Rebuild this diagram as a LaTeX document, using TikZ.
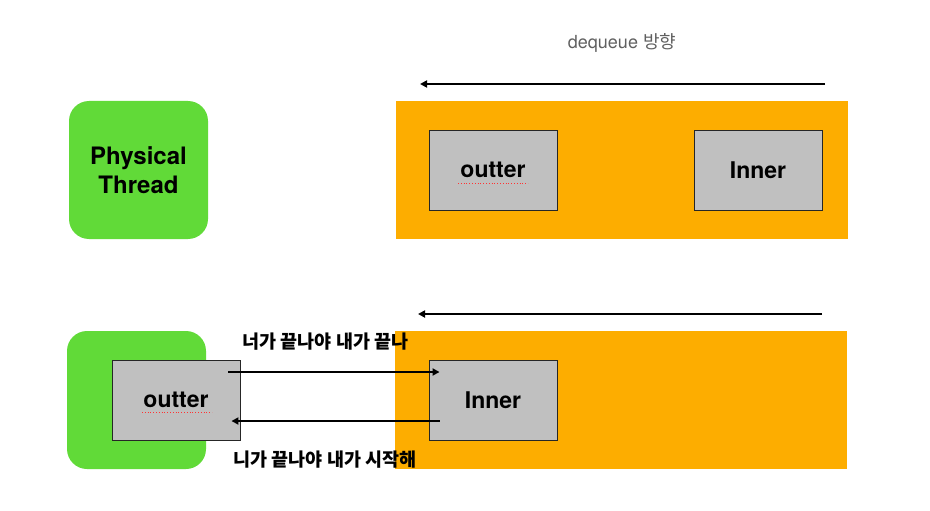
\documentclass[tikz,border=0pt]{standalone}
\usepackage{fontspec}
\setmainfont{TeX Gyre Heros}
\newfontfamily\kr{Noto Sans CJK KR}
\usetikzlibrary{arrows.meta}

\definecolor{queueorange}{HTML}{FDAD00}
\definecolor{threadgreen}{HTML}{61DA38}
\definecolor{taskgray}{HTML}{C0C0C0}
\definecolor{labelgray}{HTML}{606060}

\tikzset{
  queuebox/.style={fill=queueorange, minimum width=452pt, minimum height=138pt, inner sep=0pt},
  threadbox/.style={fill=threadgreen, rounded corners=20pt, minimum width=139pt, minimum height=138pt, inner sep=0pt},
  taskbox/.style={draw=black!85, line width=0.9pt, fill=taskgray, minimum width=128pt, minimum height=80pt, inner sep=0pt, font=\bfseries\fontsize{23}{28}\selectfont},
  dirarrow/.style={line width=2pt, -{Triangle[length=7pt,width=7pt]}},
  spellmark/.style={red!80, line width=0.8pt, dotted},
  talklabel/.style={font=\kr\bfseries\fontsize{18.5}{22}\selectfont}
}

\begin{document}
\begin{tikzpicture}[x=1pt, y=-1pt]
    \useasboundingbox (0,0) rectangle (930,511);

    % top row
    \node[text=labelgray, font=\fontsize{18}{21}\selectfont] (dirlabel) at (622, 43) {dequeue {\kr 방향}};
    \coordinate (topstart) at (825, 84);
    \coordinate (topend) at (420, 84);
    \draw [dirarrow] (topstart) -- (topend);

    \node[queuebox] (queuetop) at (622, 170) {};
    \node[threadbox, align=center, font=\bfseries\fontsize{24}{29}\selectfont] (thread) at (138.5, 170) {Physical\\Thread};
    \node[taskbox] (outtertop) at (493, 170) {\raisebox{-2pt}{outter}};
    \node[taskbox] (innertop) at (758, 170) {\raisebox{-2pt}{Inner}};
    \draw [spellmark] (458, 183) -- (528, 183);

    % bottom row
    \coordinate (botstart) at (822, 314);
    \coordinate (botend) at (418, 314);
    \draw [dirarrow] (botstart) -- (botend);

    \node[queuebox] (queuebot) at (621, 400) {};
    \node[threadbox] (threadbot) at (136.5, 400) {};
    \node[taskbox] (outterbot) at (176, 400) {\raisebox{-2pt}{outter}};
    \node[taskbox] (innerbot) at (493, 400) {\raisebox{-2pt}{Inner}};
    \draw [spellmark] (142, 412) -- (212, 412);

    \coordinate (callstart) at ([xshift=-12pt, yshift=28pt]outterbot.east);
    \coordinate (callend) at ([xshift=11pt, yshift=28pt]innerbot.west);
    \coordinate (retstart) at ([xshift=11pt, yshift=-21pt]innerbot.west);
    \coordinate (retend) at ([xshift=-9pt, yshift=-21pt]outterbot.east);
    \draw [dirarrow] (callstart) -- (callend);
    \draw [dirarrow] (retstart) -- (retend);

    \node[talklabel] (calltext) at (325.5, 341.5) {너가 끝나야 내가 끝나};
    \node[talklabel] (rettext) at (325, 459.5) {니가 끝나야 내가 시작해};
\end{tikzpicture}
\end{document}
